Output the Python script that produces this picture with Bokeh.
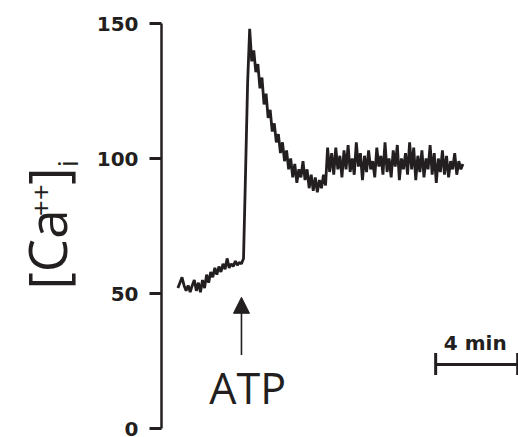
import math
from bokeh.plotting import figure
from bokeh.layouts import row
from bokeh.models import Range1d, FixedTicker, Label, Arrow, NormalHead, ColumnDataSource
from bokeh.core.properties import value
from bokeh.embed import file_html
from bokeh.resources import INLINE

# ---- data ----
TIME_START = 0.8      # minutes
TIME_STEP = 0.1       # minutes between samples
ca_values = [
    52, 54, 56, 53, 51, 53, 50.5, 53, 55, 51,
    54, 50.5, 55, 52, 57, 54, 58, 56, 59.5, 57,
    60, 58, 61, 59, 63, 59.5, 61, 60, 62, 60.5,
    61.5, 61, 63, 95, 128, 148, 136, 140, 132, 135,
    126, 130, 120, 124, 115, 118, 110, 113, 106, 109,
    102, 106, 99, 103, 96, 100, 93, 98, 91, 96,
    93, 99, 92, 96, 89, 94, 88, 93, 87.5, 92,
    89, 94, 90, 104, 95, 102, 94, 104, 96, 101,
    93, 103, 96, 105, 95, 100, 94, 106, 97, 102,
    92, 101, 95, 103, 96, 99, 93, 104, 97, 101,
    94, 106, 95, 100, 93, 103, 97, 105, 92, 100,
    96, 102, 94, 106, 96, 104, 92, 101, 95, 103,
    93, 100, 96, 105, 94, 102, 91, 100, 95, 103,
    94, 101, 93, 99, 96, 102, 94, 99, 96, 98,
]
times = [TIME_START + TIME_STEP * i for i in range(len(ca_values))]

y_ticks = [0, 50, 100, 150]
ATP_TIME = 3.9
SCALE_START = 13.37
SCALE_LEN = 4        # minutes
SCALE_Y = 24.0

X_MIN, X_MAX = 0.0, 17.41
Y_MIN, Y_MAX = 0, 150

INK = "#231f20"

# ---- label panel (y-axis title) ----
LW = 90
lab = figure(width=LW, height=437, output_backend="svg", toolbar_location=None,
             x_axis_location=None, y_axis_location=None,
             x_range=Range1d(0, LW), y_range=Range1d(0, 437),
             min_border_left=0, min_border_right=0, min_border_top=0,
             min_border_bottom=0)
lab.outline_line_color = None
lab.xgrid.visible = False
lab.ygrid.visible = False
ang = math.pi / 2
for txt, x, y, size in [("[Ca", 45.5, 150, "53px"),
                        ("++", 40, 229, "28px"),
                        ("]", 45.5, 263, "53px"),
                        ("i", 66, 282, "28px")]:
    lab.text(x=[x], y=[y], text=[txt], angle=ang, text_align="left",
             text_baseline="alphabetic", text_font=value("Open Sans"),
             text_font_size=size, text_color=INK)

# ---- main plot ----
p = figure(width=518 - LW, height=437, output_backend="svg", toolbar_location=None,
           x_axis_location=None, y_axis_location="left",
           x_range=Range1d(X_MIN, X_MAX), y_range=Range1d(Y_MIN, Y_MAX),
           min_border_left=161 - LW, min_border_right=0, min_border_top=23,
           min_border_bottom=9)
p.outline_line_color = None
p.xgrid.visible = False
p.ygrid.visible = False

ax = p.yaxis[0]
ax.ticker = FixedTicker(ticks=y_ticks)
ax.minor_tick_line_color = None
ax.major_tick_in = 0
ax.major_tick_out = 12
ax.major_tick_line_width = 3
ax.major_tick_line_color = INK
ax.axis_line_width = 2.5
ax.axis_line_color = INK
ax.major_label_text_font = "DejaVu Sans"
ax.major_label_text_font_style = "bold"
ax.major_label_text_font_size = "20px"
ax.major_label_text_color = INK
ax.major_label_standoff = 11

src = ColumnDataSource(dict(t=times, v=ca_values))
p.line("t", "v", source=src, line_color=INK, line_width=2.8)

# ATP arrow and label
p.add_layout(Arrow(end=NormalHead(size=16, fill_color=INK, line_color=INK),
                   x_start=ATP_TIME, y_start=27.2, x_end=ATP_TIME, y_end=48.6,
                   line_width=1.6, line_color=INK))
p.add_layout(Label(x=4.2, y=15.2, text="ATP", text_align="center",
                   text_baseline="alphabetic", text_font="Open Sans",
                   text_font_size="43px", text_color=INK))

# scale bar
p.line([SCALE_START, SCALE_START + SCALE_LEN], [SCALE_Y - 0.3, SCALE_Y - 0.3],
       line_color=INK, line_width=3)
p.segment(x0=[SCALE_START, SCALE_START + SCALE_LEN], y0=[19.8, 19.8],
          x1=[SCALE_START, SCALE_START + SCALE_LEN], y1=[28.0, 28.0],
          line_color=INK, line_width=3)
p.add_layout(Label(x=15.3, y=31.8, text="4 min", text_align="center",
                   text_baseline="alphabetic", text_font="DejaVu Sans",
                   text_font_style="bold", text_font_size="20px", text_color=INK))

layout = row(lab, p)
open("out.html", "w").write(file_html(layout, INLINE))
